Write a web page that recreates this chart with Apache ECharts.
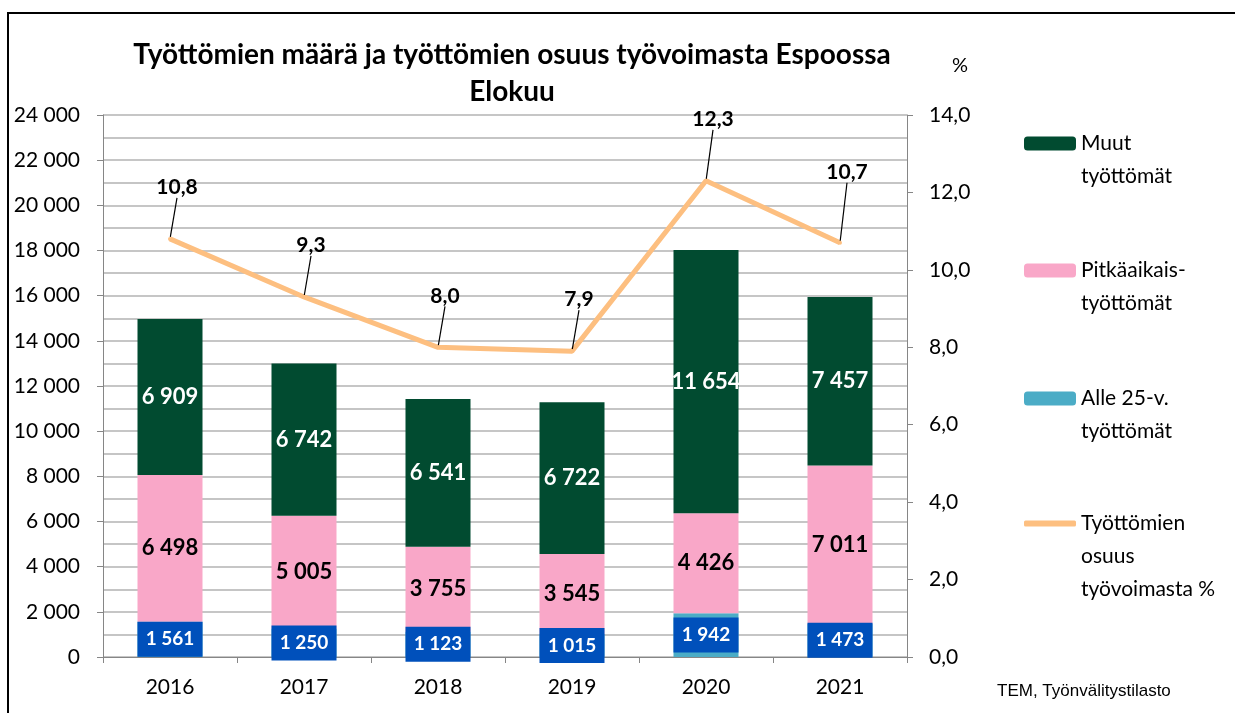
<!DOCTYPE html>
<html>
<head>
<meta charset="utf-8">
<script src="https://cdn.jsdelivr.net/npm/echarts@6/dist/echarts.min.js"></script>
<style>
  html, body { margin: 0; padding: 0; background: #fff; }
  #chart { width: 1235px; height: 713px; }
</style>
</head>
<body>
<div id="chart"></div>
<script>
// data
const years = ['2016', '2017', '2018', '2019', '2020', '2021'];
const alle25 = [1561, 1250, 1123, 1015, 1942, 1473];
const pitkaaikais = [6498, 5005, 3755, 3545, 4426, 7011];
const muut = [6909, 6742, 6541, 6722, 11654, 7457];
const osuus = [10.8, 9.3, 8.0, 7.9, 12.3, 10.7];

const FONT = 'Lato';

const fmtThousands = (v) => String(Math.round(v)).replace(/\B(?=(\d{3})+(?!\d))/g, ' ');
const fmtDecimal = (v) => Number(v).toFixed(1).replace('.', ',');

const chart = echarts.init(document.getElementById('chart'));

const legendBase = {
    orient: 'vertical',
    left: 1024,
    padding: 0,
    itemWidth: 52,
    itemHeight: 14,
    itemGap: 0,
    selectedMode: false,
    textStyle: { fontFamily: FONT, fontSize: 21, color: '#000', lineHeight: 33 },
};

const option = {
    animation: false,
    title: {
        text: 'Työttömien määrä ja työttömien osuus työvoimasta Espoossa\nElokuu',
        left: 507,
        textAlign: 'center',
        top: 31,
        textStyle: { fontFamily: FONT, fontSize: 28, fontWeight: 'bold', color: '#000', lineHeight: 37 },
    },
    legend: [
        Object.assign({}, legendBase, {
            top: 94, data: ['Muut työttömät'],
            formatter: () => '\nMuut\ntyöttömät',
        }),
        Object.assign({}, legendBase, {
            top: 221, data: ['Pitkäaikaistyöttömät'],
            formatter: () => '\nPitkäaikais-\ntyöttömät',
        }),
        Object.assign({}, legendBase, {
            top: 349, data: ['Alle 25-v. työttömät'],
            formatter: () => '\nAlle 25-v.\ntyöttömät',
        }),
        Object.assign({}, legendBase, {
            top: 441, data: [{ name: 'Työttömien osuus työvoimasta %', icon: 'roundRect' }],
            itemHeight: 6,
            formatter: () => '\n\nTyöttömien\nosuus\ntyövoimasta %',
        }),
    ],
    grid: { left: 103, right: 328, top: 115, bottom: 56 },
    xAxis: {
        type: 'category',
        data: years,
        axisLine: { lineStyle: { color: '#868686', width: 1 } },
        axisTick: { show: true, length: 6, lineStyle: { color: '#868686' } },
        axisLabel: { fontFamily: FONT, fontSize: 21, color: '#000', margin: 20 },
    },
    yAxis: [
        {
            type: 'value',
            min: 0, max: 24000, interval: 2000,
            axisLine: { show: true, lineStyle: { color: '#868686' } },
            axisTick: { show: true, length: 6, lineStyle: { color: '#868686' } },
            axisLabel: { fontFamily: FONT, fontSize: 21, color: '#000', margin: 23, formatter: fmtThousands },
            splitLine: { lineStyle: { color: '#b3b3b3', width: 1.5 } },
            minorTick: { show: false, splitNumber: 2 },
            minorSplitLine: { show: true, lineStyle: { color: '#b3b3b3', width: 1.5 } },
        },
        {
            type: 'value',
            min: 0, max: 14, interval: 2,
            position: 'right',
            axisLine: { show: true, lineStyle: { color: '#868686' } },
            axisTick: { show: true, length: 6, lineStyle: { color: '#868686' } },
            axisLabel: { fontFamily: FONT, fontSize: 21, color: '#000', margin: 22, formatter: fmtDecimal },
            splitLine: { show: false },
        },
    ],
    series: [
        {
            name: 'Alle 25-v. työttömät',
            type: 'bar',
            stack: 'tyottomat',
            barWidth: 65,
            data: alle25,
            itemStyle: { color: '#4bacc6' },
            label: {
                show: true,
                position: 'inside',
                formatter: (p) => fmtThousands(p.value),
                fontFamily: FONT, fontSize: 19, fontWeight: 'bold', color: '#fff',
                backgroundColor: '#0050bb',
                width: 65, height: 21, lineHeight: 21,
                padding: [7, 0],
                align: 'center',
            },
        },
        {
            name: 'Pitkäaikaistyöttömät',
            type: 'bar',
            stack: 'tyottomat',
            data: pitkaaikais,
            itemStyle: { color: '#f9a7c8' },
            label: {
                show: true,
                position: 'inside',
                formatter: (p) => fmtThousands(p.value),
                fontFamily: FONT, fontSize: 22, fontWeight: 'bold', color: '#000',
            },
        },
        {
            name: 'Muut työttömät',
            type: 'bar',
            stack: 'tyottomat',
            data: muut,
            itemStyle: { color: '#014b30' },
            label: {
                show: true,
                position: 'inside',
                formatter: (p) => fmtThousands(p.value),
                fontFamily: FONT, fontSize: 22, fontWeight: 'bold', color: '#fff',
            },
        },
        {
            name: 'Työttömien osuus työvoimasta %',
            type: 'line',
            yAxisIndex: 1,
            data: osuus,
            symbol: 'circle',
            symbolSize: 4,
            itemStyle: { color: '#fdbf80' },
            lineStyle: { color: '#fdbf80', width: 5 },
            z: 10,
            label: {
                show: true,
                position: 'top',
                distance: 2,
                formatter: (p) => fmtDecimal(p.value),
                fontFamily: FONT, fontSize: 21, fontWeight: 'bold', color: '#000',
            },
            // the last two labels sit a bit higher in the original
            labelLayout: (p) => ({ dx: 7, dy: p.dataIndex === 4 ? -47 : p.dataIndex === 5 ? -56 : -37 }),
            labelLine: { show: true, lineStyle: { color: '#000', width: 1.2 } },
        },
    ],
    graphic: [
        {
            type: 'rect',
            shape: { x: 8, y: 13, width: 1400, height: 900 },
            style: { fill: 'none', stroke: '#000', lineWidth: 2 },
            silent: true,
        },
        {
            type: 'text',
            left: 952, top: 56,
            style: { text: '%', fontFamily: FONT, fontSize: 20, fill: '#000' },
        },
        {
            type: 'text',
            left: 997, top: 683,
            style: { text: 'TEM, Työnvälitystilasto', fontFamily: 'Liberation Sans', fontSize: 17, fill: '#000' },
        },
    ],
};

chart.setOption(option);
</script>
</body>
</html>
